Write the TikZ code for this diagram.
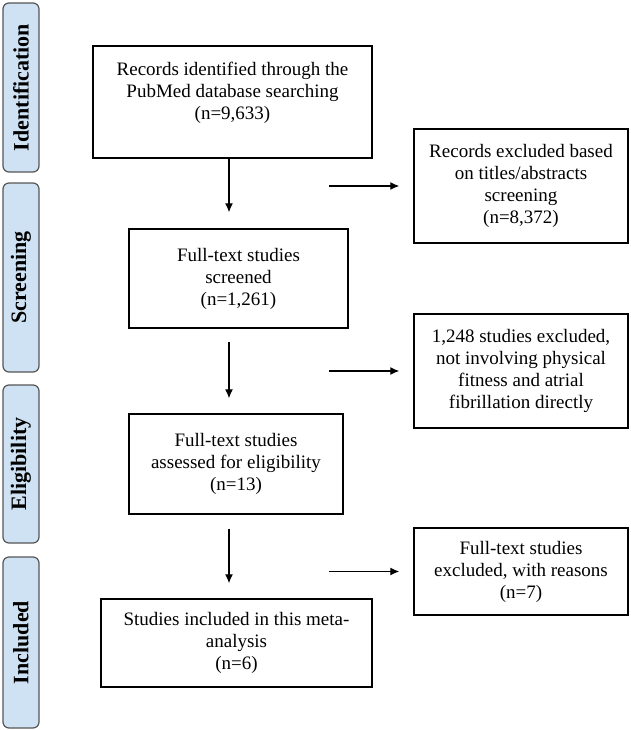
\documentclass[tikz,border=0pt]{standalone}
\usepackage{fontspec}
\setmainfont{Liberation Serif}
\usetikzlibrary{arrows.meta}
\definecolor{stageblue}{RGB}{207,226,243}
\definecolor{stageedge}{RGB}{85,85,85}

\begin{document}
\begin{tikzpicture}[x=1pt, y=-1pt,
		box/.style={draw, line width=1.4pt, align=center, inner sep=0pt, font=\fontsize{19}{22}\selectfont},
		stage/.style={draw=stageedge, fill=stageblue, rounded corners=6pt, line width=1.2pt, inner sep=0pt, font=\fontsize{22}{26}\selectfont\bfseries},
		arr/.style={-{Latex[length=9pt, width=8pt]}, line width=1.3pt}]
			\useasboundingbox (0, 0) rectangle (630, 730);
			
			% Stages
			\foreach \i/\y/\h/\name in {1/87.5/169/Identification, 2/277.5/189/Screening, 3/464/158/Eligibility, 4/642.5/171/Included} {
				\node[stage, rotate=90, minimum width=\h pt, minimum height=36pt] (stage\i) at (21, \y) {\name};
			}
			
			% Main boxes
			\node[box, minimum width=279pt, minimum height=112pt] (main1) at (232.5, 102) {Records identified through the\\PubMed database searching\\(n=9,633)\\\mbox{}};
			\node[box, minimum width=219pt, minimum height=99pt] (main2) at (238.5, 278.5) {Full-text studies\\screened\\(n=1,261)};
			\node[box, minimum width=214pt, minimum height=100pt] (main3) at (236, 464) {Full-text studies\\assessed for eligibility\\(n=13)};
			\node[box, minimum width=271pt, minimum height=88pt] (main4) at (236.5, 643) {Studies included in this meta-\\analysis\\(n=6)};
			
			% Excluded boxes
			\node[box, minimum width=214pt, minimum height=114pt] (excl1) at (521, 186) {Records excluded based\\on titles/abstracts\\screening\\(n=8,372)};
			\node[box, minimum width=214pt, minimum height=114pt] (excl2) at (521, 371) {1,248 studies excluded,\\not involving physical\\fitness and atrial\\fibrillation directly};
			\node[box, minimum width=214pt, minimum height=87pt] (excl3) at (521, 571.5) {Full-text studies\\excluded, with reasons\\(n=7)};
			
			% Connections
			\coordinate (vline) at (229, 0);
			\coordinate (hline) at (329, 0);
			\draw[arr, shorten >=16pt] (main1.south -| vline) -- (main2.north -| vline);
			\draw[arr, shorten <=13pt, shorten >=15pt] (main2.south -| vline) -- (main3.north -| vline);
			\draw[arr, shorten <=14pt, shorten >=15pt] (main3.south -| vline) -- (main4.north -| vline);
			
			\foreach \i in {1, 2, 3} {
				\draw[arr, shorten >=14pt] (excl\i.west -| hline) -- (excl\i.west);
			}
		\end{tikzpicture}
\end{document}
